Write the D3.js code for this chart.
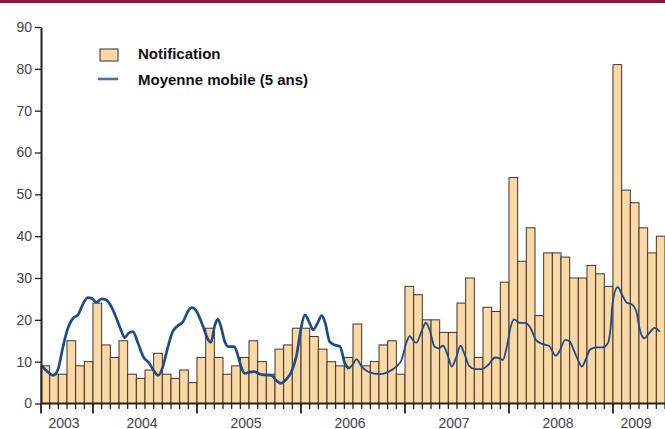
<!DOCTYPE html>
<html lang="fr">
  <head>
    <meta charset="UTF-8" />
    <title>Notifications et moyenne mobile</title>
    <script src="https://cdn.jsdelivr.net/npm/d3@7"></script>
    <style>
      body { margin: 0; background: #fff; }
      text { font-family: "Liberation Sans", Arial, sans-serif; }
    </style>
  </head>
  <body>
    <div id="chart"></div>
    <script>
      // years shown, first one starts in July, last one stops in June
      const years = [2003, 2004, 2005, 2006, 2007, 2008, 2009];
      const yearStart = [0, 6, 18, 30, 42, 54, 66]; // month index where each year starts
      const yearEnd = [6, 18, 30, 42, 54, 66, 72];

      // monthly notifications, Jul 2003 -> Jun 2009
      const notif2003 = [9, 7, 7, 15, 9, 10];
      const notif2004 = [24, 14, 11, 15, 7, 6, 8, 12, 7, 6, 8, 5];
      const notif2005 = [11, 18, 11, 7, 9, 11, 15, 10, 7, 13, 14, 18];
      const notif2006 = [18, 16, 13, 10, 9, 11, 19, 9, 10, 14, 15, 7];
      const notif2007 = [28, 26, 20, 20, 17, 17, 24, 30, 11, 23, 22, 29];
      const notif2008 = [54, 34, 42, 21, 36, 36, 35, 30, 30, 33, 31, 28];
      const notif2009 = [81, 51, 48, 42, 36, 40];
      const notifications = [].concat(notif2003, notif2004, notif2005, notif2006, notif2007, notif2008, notif2009);

      // moving average (5 years), sampled along the time axis (months since Jul 2003)
      const maTime = [
        0.1, 0.8, 1.4, 2.0, 2.5, 3.1, 3.7, 4.3, 4.8, 5.4, 5.8, 6.4, 7.0, 7.5, 8.1, 8.7, 9.3, 9.65,
        10.1, 10.6, 11.2, 11.8, 12.5, 13.1, 13.5, 14.0, 14.6, 15.2, 15.8, 16.4, 16.95, 17.4, 17.9,
        18.2, 18.7, 19.3, 19.6, 20.07, 20.4, 20.76, 21.2, 21.6, 22.3, 22.76, 23.15, 23.5, 24.1,
        24.6, 25.3, 26.0, 26.6, 27.2, 27.7, 28.2, 28.9, 29.5, 30.0, 30.45, 31.0, 31.4, 31.9,
        32.4, 32.8, 33.3, 33.9, 34.5, 35.06, 35.5, 36.0, 36.4, 37.0, 37.75, 39.1, 40.1, 41.0,
        41.6, 42.2, 42.56, 42.9, 43.3, 43.9, 44.4, 44.9, 45.4, 45.9, 46.4, 46.98, 47.4, 47.9,
        48.4, 48.9, 49.4, 50.1, 50.8, 51.6, 52.4, 52.9, 53.3, 53.75, 54.2, 54.6, 55.2, 55.95,
        56.5, 57.1, 57.9, 58.6, 59.4, 59.8, 60.5, 61.0, 61.55, 62.05, 62.4, 62.9, 63.4, 64.1,
        64.8, 65.4, 65.7, 65.95, 66.55, 67.05, 67.6, 68.1, 68.7, 69.05, 69.6, 70.2, 70.8, 71.4
      ];
      const maValue = [
        9.0, 7.5, 6.7, 8.4, 13.2, 18.0, 20.4, 21.3, 23.6, 25.3, 25.2, 24.2, 25.0, 24.8, 23.2, 20.4, 17.2, 15.7,
        16.8, 17.2, 14.4, 11.2, 9.6, 7.6, 6.7, 8.4, 13.2, 17.2, 18.6, 19.6, 22.0, 22.9, 22.2,
        21.0, 18.4, 15.2, 14.6, 18.8, 20.2, 18.4, 14.8, 13.6, 13.6, 11.2, 8.4, 7.2, 7.5,
        7.6, 7.0, 6.8, 6.7, 5.4, 4.8, 5.6, 7.6, 11.6, 18.0, 21.2, 19.2, 17.6, 19.2,
        21.0, 19.2, 14.8, 14.0, 13.6, 9.6, 8.3, 9.4, 10.6, 8.8, 7.6, 7.0, 7.6, 8.8,
        10.4, 14.8, 16.1, 15.2, 14.5, 17.2, 19.3, 17.2, 13.6, 13.2, 13.8, 11.2, 8.8, 11.0,
        13.8, 11.6, 9.0, 8.2, 8.2, 9.2, 11.0, 10.8, 10.4, 13.6, 18.4, 20.1, 19.3, 19.2,
        18.0, 15.2, 14.2, 13.8, 11.4, 12.4, 15.2, 14.8, 12.4, 10.0, 8.8, 10.8, 13.0, 13.4,
        13.4, 14.4, 17.6, 24.0, 27.8, 26.0, 24.1, 23.8, 22.0, 18.0, 15.6, 16.9, 18.1, 17.2
      ];

      const yTicks = [0, 10, 20, 30, 40, 50, 60, 70, 80, 90];
      const legendLabels = ["Notification", "Moyenne mobile (5 ans)"];

      const W = 665, H = 429;
      const plotLeft = 41, plotRight = 665, plotTop = 27, plotBottom = 403.5;

      const svg = d3.select("#chart").append("svg")
        .attr("width", W).attr("height", H);

      // thin dark red band at the top of the page
      svg.append("rect").attr("x", 0).attr("y", 0).attr("width", W).attr("height", 3)
        .attr("fill", "#8c1538");

      const monthIdx = d3.range(notifications.length);
      const x = d3.scaleBand().domain(monthIdx).range([plotLeft, plotRight]).padding(0);
      const xt = d3.scaleLinear().domain([0, notifications.length]).range([plotLeft, plotRight]);
      const y = d3.scaleLinear().domain([0, 90]).range([plotBottom, plotTop]);

      // bars
      svg.append("g")
        .selectAll("rect")
        .data(notifications)
        .join("rect")
        .attr("x", (d, i) => x(i))
        .attr("y", d => y(d))
        .attr("width", x.bandwidth())
        .attr("height", d => y(0) - y(d))
        .attr("fill", "#fcd9a4")
        .attr("stroke", "#3b3632")
        .attr("stroke-width", 1);

      // moving average: drawn thicker up to mid 2006 like the source
      const ma = maTime.map((t, i) => ({ t: t, v: maValue[i] }));
      const line = d3.line()
        .x(d => xt(d.t))
        .y(d => y(d.v))
        .curve(d3.curveMonotoneX);
      const split = 35.5;
      svg.append("path")
        .datum(ma.filter(d => d.t <= split))
        .attr("d", line)
        .attr("fill", "none")
        .attr("stroke", "#1c4c8a")
        .attr("stroke-width", 2.7)
        .attr("stroke-linejoin", "round");
      svg.append("path")
        .datum(ma.filter(d => d.t >= split))
        .attr("d", line)
        .attr("fill", "none")
        .attr("stroke", "#1c4c8a")
        .attr("stroke-width", 1.8)
        .attr("stroke-linejoin", "round");

      // y axis
      const yAxis = svg.append("g")
        .attr("transform", "translate(" + plotLeft + ",0)")
        .call(d3.axisLeft(y).tickValues(yTicks).tickSize(6).tickPadding(3).tickSizeOuter(0));
      yAxis.select(".domain").attr("stroke", "#222").attr("stroke-width", 2);
      yAxis.selectAll(".tick line").attr("stroke", "#222").attr("stroke-width", 1.3);
      yAxis.selectAll(".tick text")
        .attr("fill", "#444")
        .style("font-size", "14px")
        .style("font-family", "'Liberation Sans', Arial, sans-serif");

      // x axis: month ticks, longer ones at year boundaries
      const xAxis = svg.append("g");
      xAxis.append("line")
        .attr("x1", plotLeft).attr("x2", plotRight)
        .attr("y1", plotBottom).attr("y2", plotBottom)
        .attr("stroke", "#222").attr("stroke-width", 2);
      xAxis.selectAll(".mtick")
        .data(d3.range(notifications.length + 1))
        .join("line")
        .attr("class", "mtick")
        .attr("x1", d => xt(d)).attr("x2", d => xt(d))
        .attr("y1", plotBottom)
        .attr("y2", d => (yearStart.includes(d) ? plotBottom + 10 : plotBottom + 5.5))
        .attr("stroke", "#222")
        .attr("stroke-width", d => (yearStart.includes(d) ? 1.8 : 1.3));
      xAxis.selectAll(".ylabel")
        .data(years)
        .join("text")
        .attr("class", "ylabel")
        .attr("x", (d, i) => (xt(yearStart[i]) + xt(yearEnd[i])) / 2 - 3)
        .attr("y", 427.5)
        .attr("text-anchor", "middle")
        .attr("fill", "#444")
        .style("font-size", "14px")
        .text(d => d);

      // legend
      const legend = svg.append("g");
      legend.append("rect")
        .attr("x", 100).attr("y", 49).attr("width", 18).attr("height", 12)
        .attr("fill", "#fcd9a4").attr("stroke", "#333").attr("stroke-width", 1);
      legend.append("line")
        .attr("x1", 98).attr("x2", 118).attr("y1", 79).attr("y2", 79)
        .attr("stroke", "#4b70a6").attr("stroke-width", 2.6);
      legend.selectAll("text")
        .data(legendLabels)
        .join("text")
        .attr("x", 138)
        .attr("y", (d, i) => 59 + i * 26)
        .attr("fill", "#111")
        .style("font-size", "15px")
        .style("font-weight", "bold")
        .text(d => d);
    </script>
  </body>
</html>
